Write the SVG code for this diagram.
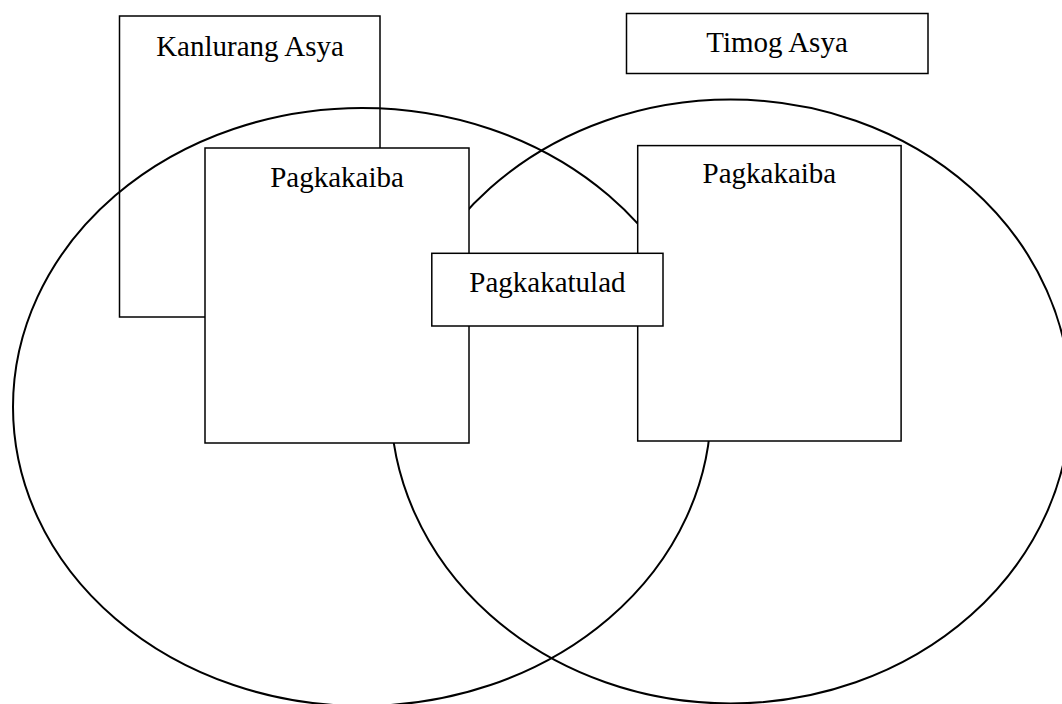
<svg xmlns="http://www.w3.org/2000/svg" width="1062" height="704" viewBox="0 0 1062 704">
<style>
.box{fill:#fff;stroke:#000;stroke-width:1.5}
.set{fill:none;stroke:#000;stroke-width:2}
.lbl{font-family:"Liberation Serif","Times New Roman",serif;font-size:29px;fill:#000;text-anchor:middle}
</style>
<rect width="1062" height="704" fill="#fff"/>
<g id="kanlurang-asya">
<rect class="box" x="119.5" y="16" width="260.5" height="301"/>
<text class="lbl" x="250" y="56">Kanlurang Asya</text>
</g>
<g id="timog-asya">
<rect class="box" x="626.5" y="13.5" width="301.5" height="60"/>
<text class="lbl" x="777" y="51.5">Timog Asya</text>
</g>
<g id="sets">
<ellipse class="set" cx="362" cy="407" rx="349" ry="299"/>
<ellipse class="set" cx="730.6" cy="401.5" rx="340" ry="302"/>
</g>
<g id="pagkakaiba-kanluran">
<rect class="box" x="205" y="148" width="264" height="295"/>
<text class="lbl" x="337" y="187">Pagkakaiba</text>
</g>
<g id="pagkakaiba-timog">
<rect class="box" x="637.7" y="145.6" width="263.4" height="295.4"/>
<text class="lbl" x="769.4" y="183">Pagkakaiba</text>
</g>
<g id="pagkakatulad">
<rect class="box" x="431.8" y="253.3" width="231.2" height="72.7"/>
<text class="lbl" x="547.4" y="292">Pagkakatulad</text>
</g>
</svg>
